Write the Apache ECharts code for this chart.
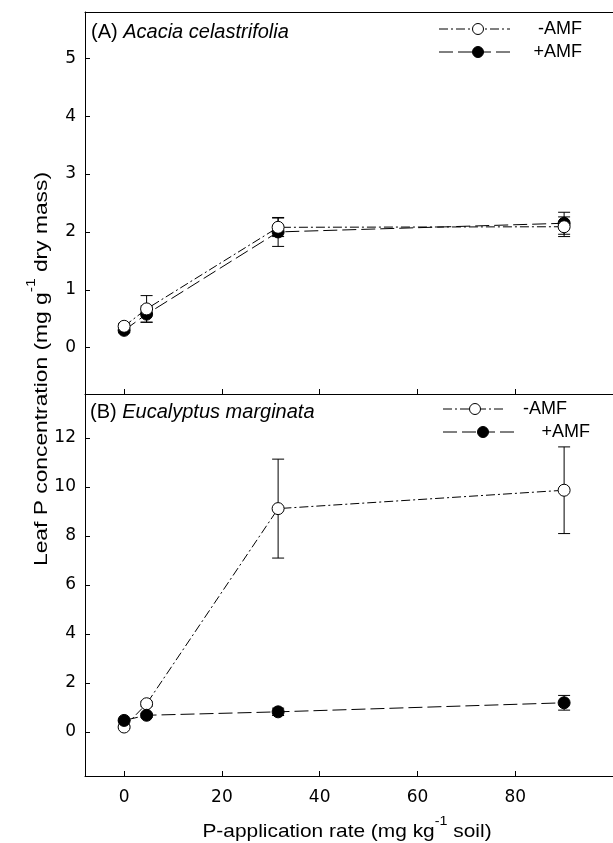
<!DOCTYPE html>
<html lang="en">
<head>
<meta charset="UTF-8">
<title>Leaf P concentration</title>
<script src="https://cdn.jsdelivr.net/npm/echarts@6/dist/echarts.min.js"></script>
<style>
    html, body { margin: 0; padding: 0; background: #fff; overflow: hidden; }
    #main { width: 613px; height: 843px; }
</style>
</head>
<body>
<div id="main"></div>
<script type="text/javascript">
    // P-application rate (x) shared by both panels
    var pRate = [0, 4.6, 31.5, 90];
    var xTicks = [0, 20, 40, 60, 80];

    // (A) Acacia celastrifolia
    var acaciaNoAmf = [0.37, 0.67, 2.08, 2.09];
    var acaciaNoAmfSe = [0.05, 0.23, 0.16, 0.17];
    var acaciaAmf = [0.30, 0.58, 2.00, 2.15];
    var acaciaAmfSe = [0.04, 0.14, 0.25, 0.19];
    var yTicksA = [0, 1, 2, 3, 4, 5];

    // (B) Eucalyptus marginata
    var eucNoAmf = [0.20, 1.15, 9.12, 9.87];
    var eucNoAmfSe = [0.05, 0.10, 2.02, 1.77];
    var eucAmf = [0.47, 0.68, 0.82, 1.19];
    var eucAmfSe = [0.05, 0.08, 0.15, 0.30];
    var yTicksB = [0, 2, 4, 6, 8, 10, 12];

    var font = 'Liberation Sans, Arial, sans-serif';
    var numFont = 'DejaVu Sans, sans-serif';
    var dashDot = [9, 3, 2, 3];
    var longDash = [14, 5];

    function pairs(vals) {
        return pRate.map(function (x, i) { return [x, vals[i]]; });
    }
    function bars(vals, se) {
        return pRate.map(function (x, i) { return [x, vals[i] - se[i], vals[i] + se[i]]; });
    }

    function errorBar(params, api) {
        var top = api.coord([api.value(0), api.value(2)]);
        var bot = api.coord([api.value(0), api.value(1)]);
        var w = 6;
        var st = { stroke: '#000', lineWidth: 1 };
        return {
            type: 'group',
            children: [
                { type: 'line', shape: { x1: top[0], y1: top[1], x2: bot[0], y2: bot[1] }, style: st },
                { type: 'line', shape: { x1: top[0] - w, y1: top[1], x2: top[0] + w, y2: top[1] }, style: st },
                { type: 'line', shape: { x1: bot[0] - w, y1: bot[1], x2: bot[0] + w, y2: bot[1] }, style: st }
            ]
        };
    }

    function lineSeries(idx, vals, open, dash, z) {
        return {
            type: 'line',
            xAxisIndex: idx, yAxisIndex: idx,
            data: pairs(vals),
            symbol: 'circle', symbolSize: 12,
            itemStyle: { color: open ? '#fff' : '#000', borderColor: '#000', borderWidth: 1 },
            lineStyle: { color: '#000', width: 1, type: dash },
            z: z,
            silent: true
        };
    }

    function barSeries(idx, vals, se) {
        return {
            type: 'custom',
            xAxisIndex: idx, yAxisIndex: idx,
            renderItem: errorBar,
            encode: { x: 0, y: [1, 2] },
            data: bars(vals, se),
            z: 1,
            silent: true
        };
    }

    function xAxis(idx, labels) {
        return {
            type: 'value', gridIndex: idx, min: -8, max: 100,
            axisLine: { show: true, onZero: false, lineStyle: { color: '#000', width: 1 } },
            axisTick: { show: true, inside: true, length: 5, customValues: xTicks, lineStyle: { color: '#000' } },
            axisLabel: { show: labels, customValues: xTicks, margin: 13, color: '#000', fontSize: 17, fontFamily: numFont },
            splitLine: { show: false }
        };
    }

    function yAxis(idx, min, max, ticks) {
        return {
            type: 'value', gridIndex: idx, min: min, max: max,
            axisLine: { show: true, onZero: false, lineStyle: { color: '#000', width: 1 } },
            axisTick: { show: true, inside: true, length: 5, customValues: ticks, lineStyle: { color: '#000' } },
            axisLabel: { customValues: ticks, margin: 9, color: '#000', fontSize: 17, fontFamily: numFont },
            splitLine: { show: false }
        };
    }

    // plain frame line along the top of panel A
    var topFrame = {
        type: 'value', gridIndex: 0, position: 'top', min: -8, max: 100,
        axisLine: { show: true, onZero: false, lineStyle: { color: '#000', width: 1 } },
        axisTick: { show: false }, axisLabel: { show: false }, splitLine: { show: false }
    };

    // legend drawn by hand, like the original figure
    function legendRow(x1, x2, cx, y, dash, open, label, tx) {
        return [
            { type: 'line', shape: { x1: x1, y1: y, x2: x2, y2: y }, style: { stroke: '#000', lineWidth: 1, lineDash: dash }, z: 10 },
            { type: 'circle', shape: { cx: cx, cy: y, r: 5.5 }, style: { fill: open ? '#fff' : '#000', stroke: '#000', lineWidth: 1 }, z: 11 },
            { type: 'text', x: tx, y: y, style: { text: label, fill: '#000', font: '18px ' + font, align: 'right', verticalAlign: 'middle' }, z: 11 }
        ];
    }

    function richStyle(size) {
        return {
            n: { fontSize: size, fontFamily: font, color: '#000', lineHeight: 26, verticalAlign: 'bottom' },
            i: { fontSize: size, fontFamily: font, color: '#000', fontStyle: 'italic', lineHeight: 26, verticalAlign: 'bottom' },
            s: { fontSize: 13, fontFamily: font, color: '#000', lineHeight: 26, verticalAlign: 'top' }
        };
    }

    var graphics = [].concat(
        legendRow(439, 510, 478, 29, dashDot, true, '-AMF', 582),
        legendRow(439, 510, 478, 52, longDash, false, '+AMF', 582),
        legendRow(443, 503, 475, 409, dashDot, true, '-AMF', 567),
        legendRow(443, 515, 483, 432, longDash, false, '+AMF', 590),
        [
            { type: 'text', x: 91, y: 29, style: { text: '{n|(A) }{i|Acacia celastrifolia}', rich: richStyle(20), verticalAlign: 'middle' }, z: 11 },
            { type: 'text', x: 90, y: 409, style: { text: '{n|(B) }{i|Eucalyptus marginata}', rich: richStyle(20), verticalAlign: 'middle' }, z: 11 },
            { type: 'text', x: 347, y: 828, scaleX: 1.1, style: { text: '{n|P-application rate (mg kg}{s|-1}{n| soil)}', rich: richStyle(19), align: 'center', verticalAlign: 'middle' } },
            { type: 'text', x: 38, y: 369, rotation: Math.PI / 2, scaleX: 1.2, style: { text: '{n|Leaf P concentration (mg g}{s|-1}{n| dry mass)}', rich: richStyle(19), align: 'center', verticalAlign: 'middle' } }
        ]
    );

    var myChart = echarts.init(document.getElementById('main'));
    var option = {
        animation: false,
        backgroundColor: '#fff',
        grid: [
            { left: 85, top: 12, width: 530, height: 382 },
            { left: 85, top: 394, width: 530, height: 382 }
        ],
        xAxis: [xAxis(0, false), xAxis(1, true), topFrame],
        yAxis: [yAxis(0, -0.8, 5.8, yTicksA), yAxis(1, -1.8, 13.8, yTicksB)],
        series: [
            barSeries(0, acaciaAmf, acaciaAmfSe),
            barSeries(0, acaciaNoAmf, acaciaNoAmfSe),
            lineSeries(0, acaciaAmf, false, longDash, 3),
            lineSeries(0, acaciaNoAmf, true, dashDot, 4),
            barSeries(1, eucNoAmf, eucNoAmfSe),
            barSeries(1, eucAmf, eucAmfSe),
            lineSeries(1, eucNoAmf, true, dashDot, 3),
            lineSeries(1, eucAmf, false, longDash, 4)
        ],
        graphic: graphics
    };
    myChart.setOption(option);
</script>
</body>
</html>
